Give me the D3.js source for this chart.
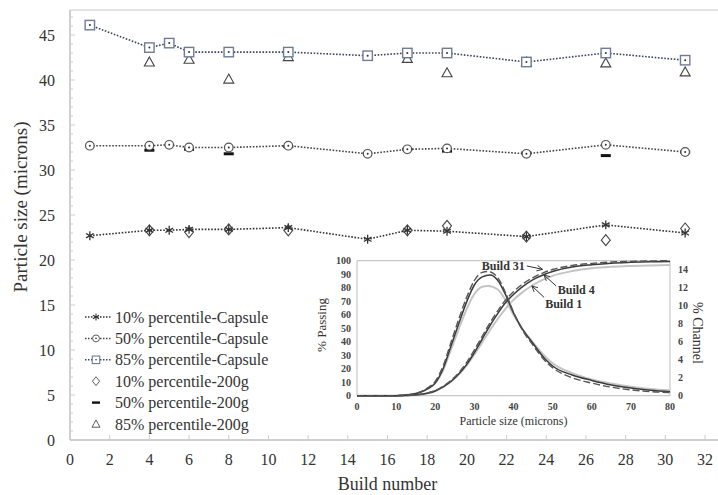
<!DOCTYPE html>
<html>
<head>
<meta charset="utf-8">
<script src="https://cdn.jsdelivr.net/npm/d3@7"></script>
<style>
  body { margin: 0; background: #fff; }
  svg text { font-family: "Liberation Serif", "DejaVu Serif", serif; }
</style>
</head>
<body>
<svg id="chart"></svg>
<script>
// ---- main chart data ----
const capsuleBuilds = [1, 4, 5, 6, 8, 11, 15, 17, 19, 23, 27, 31];
const p10Capsule = [22.7, 23.3, 23.3, 23.4, 23.4, 23.6, 22.3, 23.3, 23.2, 22.6, 23.9, 23.0];
const p50Capsule = [32.7, 32.7, 32.8, 32.5, 32.5, 32.7, 31.8, 32.3, 32.4, 31.8, 32.8, 32.0];
const p85Capsule = [46.1, 43.6, 44.1, 43.1, 43.1, 43.1, 42.7, 43.0, 43.0, 42.0, 43.0, 42.2];

const bulkBuilds = [4, 6, 8, 11, 17, 19, 23, 27, 31];
const p10Bulk = [23.3, 23.1, 23.4, 23.3, 23.3, 23.8, 22.6, 22.2, 23.5];
const p50Bulk = [32.2, 32.3, 31.8, 32.6, 32.3, 32.1, 31.9, 31.6, 32.0];
const p85Bulk = [42.0, 42.3, 40.1, 42.6, 42.4, 40.8, 42.0, 41.9, 40.9];

const xTicks = d3.range(0, 33, 2);
const yTicks = d3.range(0, 46, 5);

const legendLabels = [
  "10% percentile-Capsule", "50% percentile-Capsule", "85% percentile-Capsule",
  "10% percentile-200g", "50% percentile-200g", "85% percentile-200g"
];

// ---- inset data: [particle size (microns), value] ----
const channelBuild1 = [[0,0],[10,0],[12,0.05],[14,0.15],[16,0.35],[18,0.75],[20,1.4],[22,2.8],[24,5.1],[26,7.4],[28,9.6],[30,11.3],[32,12.1],[33.5,12.2],[36,11.8],[38,10.6],[40,9.0],[42,7.6],[45,5.9],[48,4.4],[50,3.6],[55,2.5],[60,1.8],[65,1.35],[70,1.0],[75,0.75],[80,0.6]];
const channelBuild4 = [[0,0],[10,0],[12,0.05],[14,0.15],[16,0.35],[18,0.75],[20,1.4],[22,3.0],[24,5.5],[26,8.0],[28,10.4],[30,12.3],[32,13.2],[34,13.4],[36,12.8],[38,11.2],[40,9.2],[42,7.6],[45,5.8],[48,4.1],[50,3.3],[55,2.3],[60,1.7],[65,1.2],[70,0.85],[75,0.6],[80,0.45]];
const channelBuild31 = [[0,0],[10,0],[12,0.05],[14,0.15],[16,0.4],[18,0.85],[20,1.6],[22,3.3],[24,5.9],[26,8.5],[28,10.9],[30,12.8],[32,13.7],[33.5,13.8],[36,13.1],[38,11.4],[40,9.3],[42,7.5],[45,5.6],[48,3.9],[50,3.1],[55,2.0],[60,1.4],[65,0.95],[70,0.65],[75,0.45],[80,0.35]];

const passingBuild1 = [[0,0],[10,0],[12,0.1],[15,0.5],[18,1.8],[20,3.5],[22,6.4],[24,10.3],[26,15.6],[28,22.3],[30,30.5],[32,39.5],[34,48.5],[36,57],[38,64.5],[40,71],[42,76],[45,82],[48,86.5],[50,88.8],[55,92.3],[60,94.4],[65,95.5],[70,96.1],[75,96.5],[80,96.8]];
const passingBuild4 = [[0,0],[10,0],[12,0.1],[15,0.5],[18,1.8],[20,3.5],[22,6.5],[24,10.5],[26,16],[28,23],[30,32],[32,42],[34,52],[36,61],[38,69],[40,75],[42,80],[45,86],[48,90],[50,92],[55,95.3],[60,97],[65,98.2],[70,98.8],[75,99.2],[80,99.4]];
const passingBuild31 = [[0,0],[10,0],[12,0.1],[15,0.6],[18,2.0],[20,3.8],[22,7.0],[24,11.3],[26,17],[28,24.5],[30,34],[32,44],[34,54],[36,63],[38,71],[40,77],[42,82],[45,87.5],[48,91.5],[50,93.5],[55,96.5],[60,98],[65,99],[70,99.5],[75,99.8],[80,100]];

const insetXTicks = d3.range(0, 81, 10);
const insetLeftTicks = d3.range(0, 101, 10);
const insetRightTicks = d3.range(0, 15, 2);

// annotation: label, text anchor point, arrow start, arrow end (microns, % passing)
const notes = [
  {label: "Build 31", text: [42.9, 93], from: [43.4, 96.1], to: [47.4, 93.6], anchor: "end"},
  {label: "Build 4", text: [51.3, 75.3], from: [50.9, 81.3], to: [47.8, 89.4], anchor: "start"},
  {label: "Build 1", text: [48.1, 65], from: [47.8, 72.9], to: [44.7, 81.3], anchor: "start"}
];

const W = 718, H = 495;
const svg = d3.select("#chart").attr("width", W).attr("height", H);

const axisColor = "#cfcfcf";
const textColor = "#333";

// ---- main scales ----
const x = d3.scaleLinear().domain([0, 32]).range([70, 705]);
const y = d3.scaleLinear().domain([0, 45]).range([440, 35]);
const plotTop = 10, plotRight = W;

// frame top line
svg.append("line")
  .attr("x1", x(0)).attr("x2", plotRight)
  .attr("y1", plotTop).attr("y2", plotTop)
  .attr("stroke", "#e4e4e4").attr("stroke-width", 2);

// y axis
const yAxisG = svg.append("g").attr("transform", `translate(${x(0)},0)`);
yAxisG.append("line").attr("y1", y(0)).attr("y2", plotTop)
  .attr("stroke", axisColor).attr("stroke-width", 2);
yAxisG.selectAll(".minor").data(d3.range(0, 48, 1)).join("line")
  .attr("x1", 0).attr("x2", d => d % 5 === 0 ? 5 : 3)
  .attr("y1", d => y(d)).attr("y2", d => y(d))
  .attr("stroke", axisColor).attr("stroke-width", 1);
yAxisG.selectAll(".lbl").data(yTicks).join("text")
  .attr("x", -15).attr("y", d => y(d)).attr("dy", "0.35em")
  .attr("text-anchor", "end").attr("font-size", 16).attr("fill", textColor)
  .text(d => d);

// x axis
const xAxisG = svg.append("g").attr("transform", `translate(0,${y(0)})`);
xAxisG.append("line").attr("x1", x(0)).attr("x2", plotRight)
  .attr("stroke", axisColor).attr("stroke-width", 2);
xAxisG.selectAll(".tk").data(xTicks).join("line")
  .attr("x1", d => x(d)).attr("x2", d => x(d)).attr("y1", 0).attr("y2", -5)
  .attr("stroke", axisColor).attr("stroke-width", 1);
xAxisG.selectAll(".lbl").data(xTicks).join("text")
  .attr("x", d => x(d)).attr("y", 25)
  .attr("text-anchor", "middle").attr("font-size", 16).attr("fill", textColor)
  .text(d => d);

svg.append("text")
  .attr("x", (x(0) + x(32)) / 2).attr("y", 490)
  .attr("text-anchor", "middle").attr("font-size", 18).attr("fill", textColor)
  .text("Build number");
svg.append("text")
  .attr("transform", `translate(27,207) rotate(-90)`)
  .attr("text-anchor", "middle").attr("font-size", 19).attr("fill", textColor)
  .text("Particle size (microns)");

// ---- markers ----
function drawMarker(g, kind) {
  if (kind === "star") {
    g.append("path").attr("d", d3.symbol(d3.symbolAsterisk, 55)())
      .attr("fill", "none").attr("stroke", "#333").attr("stroke-width", 1.3);
  } else if (kind === "circle") {
    g.append("circle").attr("r", 4.3).attr("fill", "#fff").attr("stroke", "#555").attr("stroke-width", 1.2);
    g.append("circle").attr("r", 1).attr("fill", "#333");
  } else if (kind === "square") {
    g.append("rect").attr("x", -4.7).attr("y", -4.7).attr("width", 9.4).attr("height", 9.4)
      .attr("fill", "#fff").attr("stroke", "#6f7c98").attr("stroke-width", 1.4);
    g.append("circle").attr("r", 1).attr("fill", "#333");
  } else if (kind === "diamond") {
    g.append("path").attr("d", "M0,-5.5L4.5,0L0,5.5L-4.5,0Z")
      .attr("fill", "none").attr("stroke", "#444").attr("stroke-width", 1.1);
  } else if (kind === "bar") {
    g.append("rect").attr("x", -5).attr("y", -1.5).attr("width", 10).attr("height", 3).attr("fill", "#111");
  } else if (kind === "triangle") {
    g.append("path").attr("d", "M0,-5L5,4L-5,4Z")
      .attr("fill", "none").attr("stroke", "#444").attr("stroke-width", 1.1);
  }
}

const series = [
  {builds: capsuleBuilds, values: p10Capsule, kind: "star", line: true, color: "#333"},
  {builds: capsuleBuilds, values: p50Capsule, kind: "circle", line: true, color: "#444"},
  {builds: capsuleBuilds, values: p85Capsule, kind: "square", line: true, color: "#3c4560"},
  {builds: bulkBuilds, values: p10Bulk, kind: "diamond", line: false},
  {builds: bulkBuilds, values: p50Bulk, kind: "bar", line: false},
  {builds: bulkBuilds, values: p85Bulk, kind: "triangle", line: false}
];

const line = d3.line().x(d => x(d[0])).y(d => y(d[1]));

series.forEach(s => {
  const pts = s.builds.map((b, i) => [b, s.values[i]]);
  if (s.line) {
    svg.append("path").datum(pts)
      .attr("d", line).attr("fill", "none")
      .attr("stroke", s.color).attr("stroke-width", 1.6)
      .attr("stroke-dasharray", "1.6,1.6");
  }
});
// draw 200g markers first, capsule markers on top
[3, 4, 5, 0, 1, 2].forEach(i => {
  const s = series[i];
  s.builds.forEach((b, j) => {
    const g = svg.append("g").attr("transform", `translate(${x(b)},${y(s.values[j])})`);
    drawMarker(g, s.kind);
  });
});

// ---- legend ----
const legendY = d3.scaleLinear().domain([0, 5]).range([317, 424]);
legendLabels.forEach((lab, i) => {
  const cy = legendY(i);
  if (series[i].line) {
    svg.append("line").attr("x1", 85).attr("x2", 112).attr("y1", cy).attr("y2", cy)
      .attr("stroke", series[i].color).attr("stroke-width", 1.5).attr("stroke-dasharray", "1.5,1.5");
  }
  const g = svg.append("g").attr("transform", `translate(96,${cy}) scale(0.8)`);
  drawMarker(g, series[i].kind);
  svg.append("text").attr("x", 115).attr("y", cy).attr("dy", "0.35em")
    .attr("font-size", 16).attr("fill", textColor).text(lab);
});

// ---- inset ----
const ix = d3.scaleLinear().domain([0, 80]).range([357, 670]);
const iyL = d3.scaleLinear().domain([0, 100]).range([395.7, 260.7]);
const iyR = d3.scaleLinear().domain([0, 15]).range([395.7, 260.7]);

const inset = svg.append("g");
inset.append("rect").attr("x", ix(0)).attr("y", iyL(100))
  .attr("width", ix(80) - ix(0)).attr("height", iyL(0) - iyL(100)).attr("fill", "#fff");
[[ix(0), iyL(100), ix(80), iyL(100)], [ix(0), iyL(0), ix(80), iyL(0)],
 [ix(0), iyL(0), ix(0), iyL(100)], [ix(80), iyL(0), ix(80), iyL(100)]].forEach(l => {
  inset.append("line").attr("x1", l[0]).attr("y1", l[1]).attr("x2", l[2]).attr("y2", l[3])
    .attr("stroke", "#c8c8c8").attr("stroke-width", 1.2);
});

inset.selectAll(".xl").data(insetXTicks).join("text")
  .attr("x", d => ix(d)).attr("y", iyL(0) + 14)
  .attr("text-anchor", "middle").attr("font-size", 10).attr("font-weight", "bold").attr("fill", "#444")
  .text(d => d);
inset.selectAll(".yl").data(insetLeftTicks).join("text")
  .attr("x", ix(0) - 6).attr("y", d => iyL(d)).attr("dy", "0.35em")
  .attr("text-anchor", "end").attr("font-size", 10).attr("font-weight", "bold").attr("fill", "#444")
  .text(d => d);
inset.selectAll(".yr").data(insetRightTicks).join("text")
  .attr("x", ix(80) + 8).attr("y", d => iyR(d)).attr("dy", "0.35em")
  .attr("text-anchor", "start").attr("font-size", 10).attr("font-weight", "bold").attr("fill", "#444")
  .text(d => d);

inset.append("text").attr("x", (ix(0) + ix(80)) / 2).attr("y", 425)
  .attr("text-anchor", "middle").attr("font-size", 12).attr("fill", "#333")
  .text("Particle size (microns)");
inset.append("text").attr("transform", `translate(326,325) rotate(-90)`)
  .attr("text-anchor", "middle").attr("font-size", 13).attr("fill", "#333")
  .text("% Passing");
inset.append("text").attr("transform", `translate(693,333) rotate(90)`)
  .attr("text-anchor", "middle").attr("font-size", 14).attr("fill", "#333")
  .text("% Channel");

const lineL = d3.line().x(d => ix(d[0])).y(d => iyL(d[1])).curve(d3.curveMonotoneX);
const lineR = d3.line().x(d => ix(d[0])).y(d => iyR(d[1])).curve(d3.curveMonotoneX);

const curves = [
  {data: passingBuild1, gen: lineL, color: "#c4c4c4", width: 2, dash: null},
  {data: channelBuild1, gen: lineR, color: "#c4c4c4", width: 2, dash: null},
  {data: passingBuild4, gen: lineL, color: "#3a3a3a", width: 1.5, dash: null},
  {data: channelBuild4, gen: lineR, color: "#3a3a3a", width: 1.5, dash: null},
  {data: passingBuild31, gen: lineL, color: "#555", width: 1.4, dash: "7,3"},
  {data: channelBuild31, gen: lineR, color: "#555", width: 1.4, dash: "7,3"}
];
curves.forEach(c => {
  inset.append("path").datum(c.data).attr("d", c.gen)
    .attr("fill", "none").attr("stroke", c.color).attr("stroke-width", c.width)
    .attr("stroke-dasharray", c.dash);
});

// annotations
svg.append("defs").append("marker")
  .attr("id", "arr").attr("viewBox", "0 0 10 10").attr("refX", 9).attr("refY", 5)
  .attr("markerWidth", 7).attr("markerHeight", 7).attr("orient", "auto")
  .append("path").attr("d", "M1,1L9,5L1,9").attr("fill", "none").attr("stroke", "#333").attr("stroke-width", 1.3);

notes.forEach(n => {
  inset.append("line")
    .attr("x1", ix(n.from[0])).attr("y1", iyL(n.from[1]))
    .attr("x2", ix(n.to[0])).attr("y2", iyL(n.to[1]))
    .attr("stroke", "#333").attr("stroke-width", 1).attr("marker-end", "url(#arr)");
  inset.append("text").attr("x", ix(n.text[0])).attr("y", iyL(n.text[1]))
    .attr("text-anchor", n.anchor).attr("font-size", 12).attr("font-weight", "bold").attr("fill", "#333")
    .text(n.label);
});
</script>
</body>
</html>
